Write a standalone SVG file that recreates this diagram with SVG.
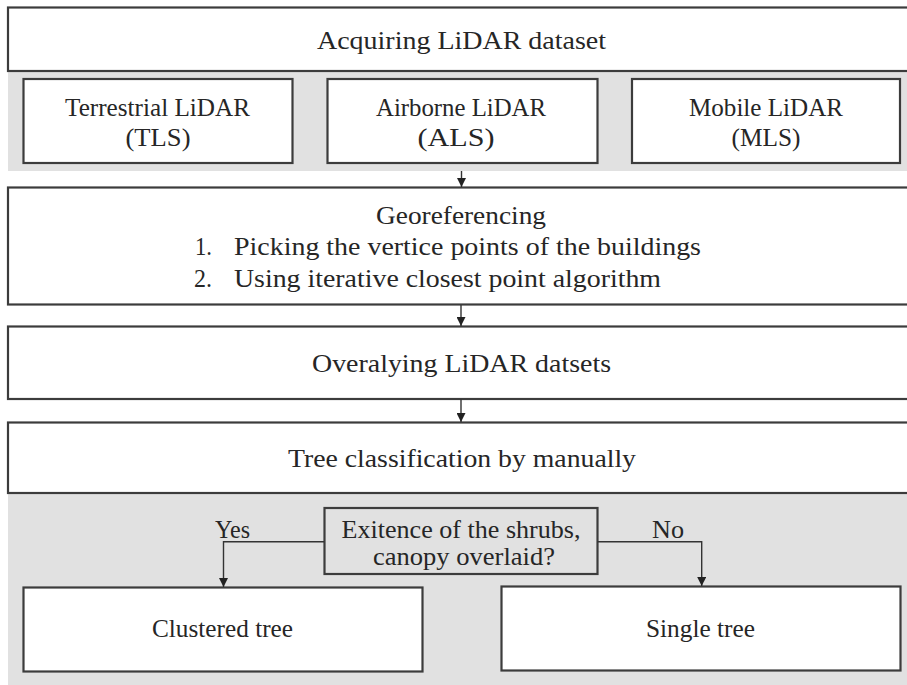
<svg xmlns="http://www.w3.org/2000/svg" width="907" height="685" viewBox="0 0 907 685">
  <style>
    .band { fill: #e1e1e1; }
    .box { fill: #ffffff; stroke: #3c3c3c; stroke-width: 2.2; }
    .dec { fill: none; stroke: #3c3c3c; stroke-width: 2.2; }
    .t { font-family: "Liberation Serif", "Times New Roman", serif; font-size: 26px; fill: #262626; text-anchor: middle; }
    .tl { font-family: "Liberation Serif", "Times New Roman", serif; font-size: 26px; fill: #262626; }
    .conn { fill: none; stroke: #333333; stroke-width: 1.4; }
  </style>
  <defs>
    <marker id="arrow" viewBox="0 0 10 10" refX="10" refY="5" markerWidth="10" markerHeight="9" markerUnits="userSpaceOnUse" orient="auto">
      <path d="M0,0 L10,5 L0,10 z" fill="#222222"/>
    </marker>
  </defs>

  <rect width="907" height="685" fill="#ffffff"/>

  <!-- shaded backgrounds -->
  <rect class="band" x="8" y="71" width="899" height="100"/>
  <rect class="band" x="8" y="493" width="899" height="192"/>

  <g id="acquire">
    <rect class="box" x="8" y="7.5" width="905" height="63.5"/>
    <text class="t" x="461.5" y="49" textLength="289" lengthAdjust="spacingAndGlyphs">Acquiring LiDAR dataset</text>
  </g>

  <g id="tls">
    <rect class="box" x="23.5" y="79" width="269" height="84"/>
    <text class="t" x="157.5" y="116" textLength="185" lengthAdjust="spacingAndGlyphs">Terrestrial LiDAR</text>
    <text class="t" x="158" y="146" textLength="65" lengthAdjust="spacingAndGlyphs">(TLS)</text>
  </g>

  <g id="als">
    <rect class="box" x="327.5" y="79" width="270" height="84"/>
    <text class="t" x="461" y="116" textLength="170" lengthAdjust="spacingAndGlyphs">Airborne LiDAR</text>
    <text class="t" x="456" y="146" textLength="77" lengthAdjust="spacingAndGlyphs">(ALS)</text>
  </g>

  <g id="mls">
    <rect class="box" x="632" y="79" width="268" height="84"/>
    <text class="t" x="766" y="116" textLength="154" lengthAdjust="spacingAndGlyphs">Mobile LiDAR</text>
    <text class="t" x="766" y="146" textLength="69" lengthAdjust="spacingAndGlyphs">(MLS)</text>
  </g>

  <g id="georef">
    <rect class="box" x="8" y="187.5" width="905" height="117"/>
    <text class="t" x="461" y="223.5" textLength="170" lengthAdjust="spacingAndGlyphs">Georeferencing</text>
    <text class="tl" x="195" y="255" textLength="17" lengthAdjust="spacingAndGlyphs">1.</text>
    <text class="tl" x="234" y="255" textLength="467" lengthAdjust="spacingAndGlyphs">Picking the vertice points of the buildings</text>
    <text class="tl" x="194" y="286.5" textLength="18" lengthAdjust="spacingAndGlyphs">2.</text>
    <text class="tl" x="234" y="286.5" textLength="427" lengthAdjust="spacingAndGlyphs">Using iterative closest point algorithm</text>
  </g>

  <g id="overlay">
    <rect class="box" x="8" y="326.5" width="905" height="72.5"/>
    <text class="t" x="461.5" y="371.5" textLength="299" lengthAdjust="spacingAndGlyphs">Overalying LiDAR datsets</text>
  </g>

  <g id="classify">
    <rect class="box" x="8" y="422.5" width="905" height="70.5"/>
    <text class="t" x="462" y="467" textLength="348" lengthAdjust="spacingAndGlyphs">Tree classification by manually</text>
  </g>

  <g id="decision">
    <rect class="dec" x="324.5" y="508" width="273" height="66"/>
    <text class="t" x="461" y="538" textLength="239" lengthAdjust="spacingAndGlyphs">Exitence of the shrubs,</text>
    <text class="t" x="464" y="565" textLength="182" lengthAdjust="spacingAndGlyphs">canopy overlaid?</text>
  </g>

  <g id="clustered">
    <rect class="box" x="23.5" y="587.5" width="399" height="84"/>
    <text class="t" x="222.5" y="637" textLength="141" lengthAdjust="spacingAndGlyphs">Clustered tree</text>
  </g>

  <g id="single">
    <rect class="box" x="501.5" y="586.5" width="399" height="84"/>
    <text class="t" x="700.5" y="636.5" textLength="109" lengthAdjust="spacingAndGlyphs">Single tree</text>
  </g>

  <g id="connectors">
    <path class="conn" d="M461.5,171 V187" marker-end="url(#arrow)"/>
    <path class="conn" d="M461,305 V326" marker-end="url(#arrow)"/>
    <path class="conn" d="M461,399 V422" marker-end="url(#arrow)"/>
    <path class="conn" d="M324,541.7 H223.5 V587" marker-end="url(#arrow)"/>
    <path class="conn" d="M597.5,541.7 H701.7 V586" marker-end="url(#arrow)"/>
    <text class="t" x="232.5" y="537.5" textLength="35" lengthAdjust="spacingAndGlyphs">Yes</text>
    <text class="t" x="668" y="537.5" textLength="32" lengthAdjust="spacingAndGlyphs">No</text>
  </g>
</svg>
